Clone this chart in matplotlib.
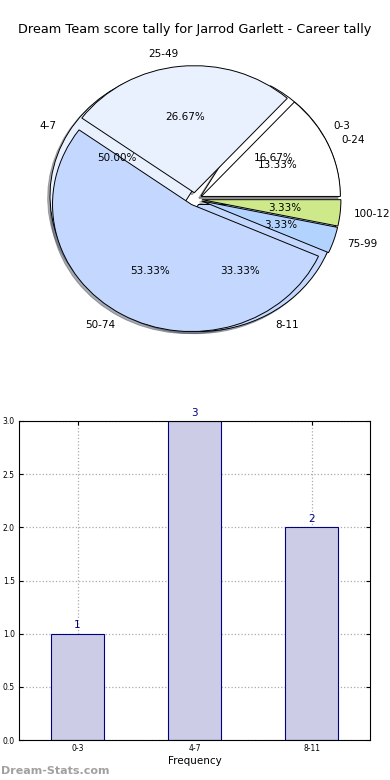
import matplotlib
matplotlib.use("Agg")
import matplotlib.pyplot as plt
import numpy as np

# score ranges (career games)
score_labels = ["0-24", "25-49", "50-74", "75-99", "100-124"]
score_counts = [4, 8, 16, 1, 1]

# frequency ranges
freq_labels = ["0-3", "4-7", "8-11"]
freq_counts = [1, 3, 2]

pie_colors = ["white", "#e9f1ff", "#c4d8ff", "#b3d3ff", "#cde98a"]

fig = plt.figure(figsize=(3.9, 7.8), dpi=100)
fig.text(0.5, 1 - 30 / 780, "Dream Team score tally for Jarrod Garlett - Career tally",
         ha="center", va="center", fontsize=9.3)

# pie axes (aspect not forced, like old matplotlib)
ax1 = fig.add_axes([0, 0.5128, 1, 0.4359])

wp = {"edgecolor": "black", "linewidth": 0.7}
shd = {"ox": -0.012, "oy": -0.012, "shade": 0.6}
ax1.pie(freq_counts, labels=freq_labels, autopct="%.2f%%", explode=[0.05] * 3,
        colors=pie_colors[:3], shadow=shd, wedgeprops=wp,
        textprops={"fontsize": 7.5}, frame=True)
ax1.pie(score_counts, labels=score_labels, autopct="%.2f%%", explode=[0.05] * 5,
        colors=pie_colors, shadow=shd, wedgeprops=wp,
        textprops={"fontsize": 7.5}, frame=True)
ax1.set_xlim(-195 / 139, 195 / 139)
ax1.set_ylim(-181 / 127, 159 / 127)
ax1.set_aspect("auto")
ax1.axis("off")

# bar chart
ax2 = fig.add_axes([19 / 390, 40 / 780, 351 / 390, 319 / 780])
x = np.arange(len(freq_labels))
ax2.bar(x, freq_counts, width=0.45, color="#ccccE6", edgecolor="#000080", linewidth=0.8)
for xi, v in zip(x, freq_counts):
    ax2.text(xi, v + 0.03, str(v), ha="center", va="bottom", color="#000080", fontsize=7.5)
ax2.set_xlim(-0.5, 2.5)
ax2.set_ylim(0, 3)
ax2.set_xticks(x)
ax2.set_xticklabels(freq_labels)
ax2.set_yticks(np.arange(0, 3.01, 0.5))
ax2.tick_params(direction="in", labelsize=5.5, top=True, right=True, length=3, pad=3)
ax2.grid(True, linestyle=":", color="#aaaaaa", linewidth=0.9)
ax2.set_axisbelow(True)
ax2.set_xlabel("Frequency", fontsize=7.5, labelpad=2)

fig.text(0.003, 1 - 771 / 780, "Dream-Stats.com", ha="left", va="center",
         fontsize=8, color="#a0a0a0", fontweight="bold")

fig.savefig("out.png", dpi=100)
